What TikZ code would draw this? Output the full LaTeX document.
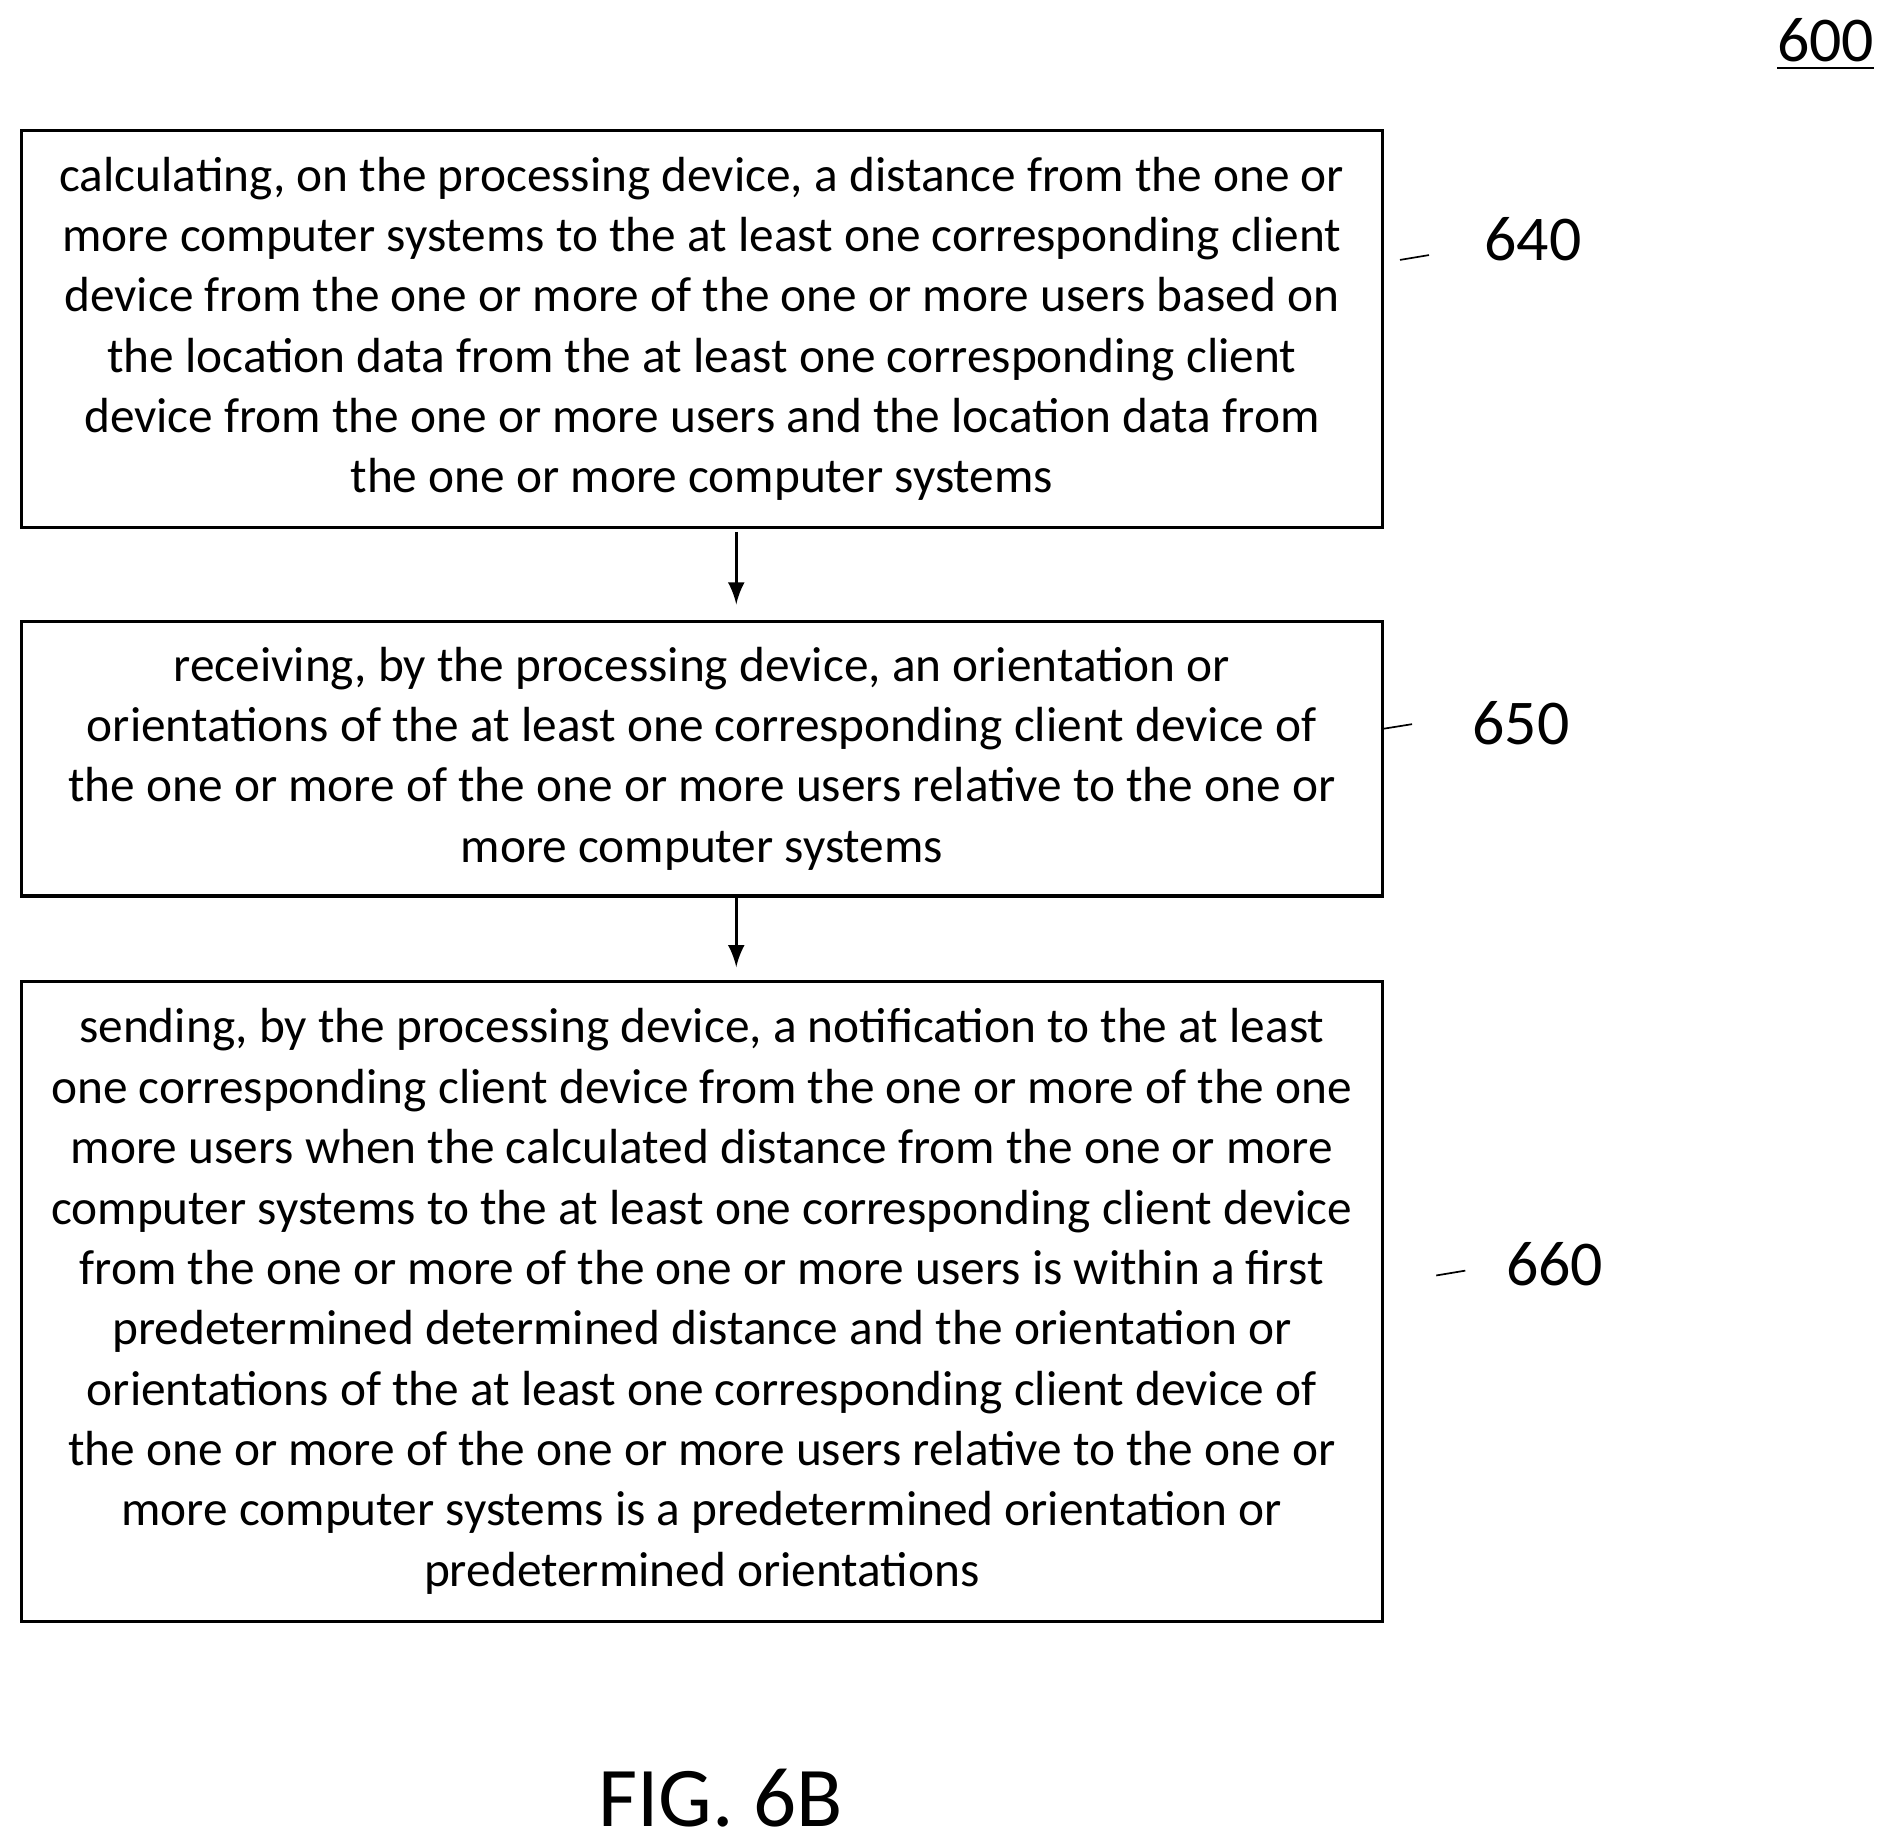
\documentclass[tikz,border=0pt]{standalone}
\usepackage{fontspec}
\setmainfont{Carlito}
\begin{document}
\begin{tikzpicture}[x=0.01cm,y=-0.01cm,>=latex,
  flowbox/.style={draw, thick, minimum width=11.25cm, align=center, inner sep=0pt,
    font=\fontsize{11.6}{14.2}\selectfont},
  ref/.style={font=\fontsize{15}{18}\selectfont}]
\useasboundingbox (0,0) rectangle (1560,1516);

% boxes
\node[flowbox, minimum height=3.28cm] (s640) at (580.5,272) {calculating, on the processing device, a distance from the one or\\
more computer systems to the at least one corresponding client\\
device from the one or more of the one or more users based on\\
the location data from the at least one corresponding client\\
device from the one or more users and the location data from\\
the one or more computer systems};
\node[flowbox, minimum height=2.27cm] (s650) at (580.5,627.5) {receiving, by the processing device, an orientation or\\
orientations of the at least one corresponding client device of\\
the one or more of the one or more users relative to the one or\\
more computer systems};
\node[flowbox, minimum height=5.29cm] (s660) at (580.5,1076.5) {sending, by the processing device, a notification to the at least\\
one corresponding client device from the one or more of the one\\
more users when the calculated distance from the one or more\\
computer systems to the at least one corresponding client device\\
from the one or more of the one or more users is within a first\\
predetermined determined distance and the orientation or\\
orientations of the at least one corresponding client device of\\
the one or more of the one or more users relative to the one or\\
more computer systems is a predetermined orientation or\\
predetermined orientations};

% arrows
\draw[thick,->] (609,440) -- (609,500);
\draw[thick,->] (609,741) -- (609,800);

% reference numbers
\node[ref] (n640) at (1268,198) {640};
\draw (1158,215) -- (1182,211);
\node[ref] (n650) at (1258,598) {650};
\draw (1143,603) -- (1168,599);
\node[ref] (n660) at (1286,1046) {660};
\draw (1188,1055) -- (1212,1051);
\node[ref] (n600) at (1510,37) {\underline{600}};

% caption
\node[font=\fontsize{20}{24}\selectfont] (fig) at (596,1487) {FIG. 6B};
\end{tikzpicture}
\end{document}
